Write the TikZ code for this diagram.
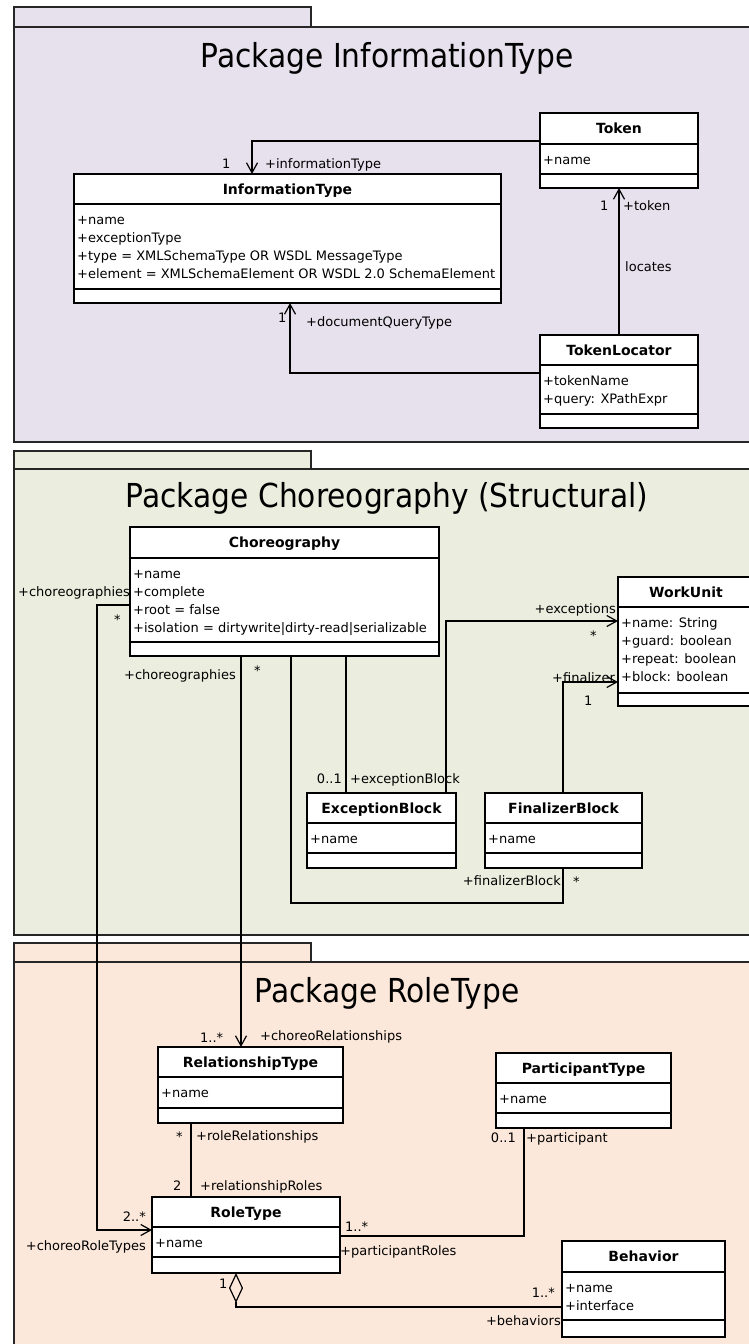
\documentclass[tikz,border=0pt]{standalone}
\usepackage{fontspec}
\setmainfont{DejaVu Sans}
\newfontfamily\titlefont{DejaVu Sans}[FakeStretch=0.9]
\usetikzlibrary{arrows.meta}
\definecolor{pkgA}{HTML}{E6E1ED}
\definecolor{pkgB}{HTML}{EBEEDF}
\definecolor{pkgC}{HTML}{FCE8DA}
\tikzset{
  pkg/.style={draw=black!85, line width=1.4pt},
  pkgtitle/.style={font=\titlefont\fontsize{33}{37}\selectfont, inner sep=0, anchor=base},
  classbox/.style={draw, line width=1.3pt, fill=white, inner sep=0, outer sep=0, rectangle},
  ctitle/.style={font=\fontsize{14}{16}\selectfont\bfseries, inner sep=0, anchor=base},
  cattr/.style={font=\fontsize{13}{16}\selectfont, inner sep=0, anchor=base west},
  lbl/.style={font=\fontsize{13}{16}\selectfont, inner sep=0, anchor=base west},
  lblr/.style={font=\fontsize{13}{16}\selectfont, inner sep=0, anchor=base east},
  assoc/.style={line width=1.2pt},
  nav/.style={assoc, -{Straight Barb[length=10pt,width=11pt]}},
  aggr/.style={assoc, {Diamond[open,length=30pt,width=14pt]}-}
}
% #1 name, #2 x1, #3 y1, #4 x2, #5 y2, #6 name/attr divider, #7 attr/op divider, #8 title, #9 attrs
\newcommand{\umlclass}[9]{%
  \node[classbox, anchor=north west, minimum width={(#4-#2)*1pt}, minimum height={(#5-#3)*1pt}] (#1) at (#2,#3) {};
  \draw[line width=1.3pt] (#2,#6) -- (#4,#6);
  \draw[line width=1.3pt] (#2,#7) -- (#4,#7);
  \node[ctitle] (#1-t) at ({(#2+#4)/2},{(#3+#6)/2+5}) {#8};
  \foreach \attrtext [count=\i] in {#9} {
    \node[cattr] (#1-a\i) at (#2+3,{#6+20+(\i-1)*18}) {\attrtext};
  }
}
\begin{document}
\begin{tikzpicture}[x=1pt,y=-1pt]
\useasboundingbox (0,0) rectangle (749,1344);
\clip (0,0) rectangle (749,1344);
\fill[white] (0,0) rectangle (749,1344);

% packages
\draw[pkg, fill=pkgA] (14,7) rectangle (311,27);
\draw[pkg, fill=pkgA] (14,27) rectangle (760,442);
\draw[pkg, fill=pkgB] (14,451) rectangle (311,469);
\draw[pkg, fill=pkgB] (14,469) rectangle (760,935);
\draw[pkg, fill=pkgC] (14,943) rectangle (311,962);
\draw[pkg, fill=pkgC] (14,962) rectangle (760,1360);
\node[pkgtitle] (titleA) at (387,67) {Package InformationType};
\node[pkgtitle] (titleB) at (387,507) {Package Choreography (Structural)};
\node[pkgtitle] (titleC) at (387,1002) {Package RoleType};

% classes
\umlclass{infotype}{74}{174}{501}{303}{204}{289}{InformationType}{+name,+exceptionType,+type = XMLSchemaType OR WSDL MessageType,+element = XMLSchemaElement OR WSDL 2.0 SchemaElement}
\umlclass{token}{540}{113}{698}{188}{144}{174}{Token}{+name}
\umlclass{tokloc}{540}{335}{698}{428}{365}{414}{TokenLocator}{+tokenName,+query: XPathExpr}
\umlclass{choreo}{130}{527}{439}{656}{558}{642}{Choreography}{+name,+complete,+root = false,+isolation = dirtywrite|dirty-read|serializable}
\umlclass{workunit}{618}{577}{754}{706}{607}{693}{WorkUnit}{+name: String,+guard: boolean,+repeat: boolean,+block: boolean}
\umlclass{excblock}{307}{793}{456}{868}{823}{853}{ExceptionBlock}{+name}
\umlclass{finblock}{485}{793}{642}{868}{823}{853}{FinalizerBlock}{+name}
\umlclass{reltype}{158}{1047}{343}{1123}{1077}{1108}{RelationshipType}{+name}
\umlclass{parttype}{496}{1053}{671}{1128}{1083}{1113}{ParticipantType}{+name}
\umlclass{roletype}{152}{1197}{340}{1273}{1227}{1257}{RoleType}{+name}
\umlclass{behavior}{562}{1241}{725}{1337}{1272}{1320}{Behavior}{+name,+interface}

% connectors: package InformationType
\draw[nav] (token.west |- 0,141) -| (infotype.north -| 252,0);
\draw[nav] (tokloc.north) -- (token.south);
\draw[nav] (tokloc.west |- 0,373) -| (infotype.south -| 290,0);

% connectors: package Choreography
\draw[nav] (choreo.west |- 0,605) -- (97,605) |- (roletype.west |- 0,1230);
\draw[nav] (choreo.south -| 241,0) -- (reltype.north -| 241,0);
\draw[assoc] (choreo.south -| 291,0) |- (563,903) -- (finblock.south -| 563,0);
\draw[assoc] (choreo.south -| 346,0) -- (excblock.north -| 346,0);
\draw[nav] (excblock.north -| 446,0) |- (workunit.west |- 0,621);
\draw[nav] (finblock.north -| 563,0) |- (workunit.west |- 0,682);

% connectors: package RoleType
\draw[assoc] (reltype.south -| 191,0) -- (roletype.north -| 191,0);
\draw[assoc] (parttype.south -| 524,0) |- (roletype.east |- 0,1236);
\draw[aggr] (roletype.south -| 236,0) |- (behavior.west |- 0,1307);

% labels: package InformationType
\node[lbl] (m1) at (222,168) {1};
\node[lbl] (r1) at (265,168) {+informationType};
\node[lbl] (m2) at (600,210) {1};
\node[lbl] (r2) at (623,210) {+token};
\node[lbl] (n1) at (625,271) {locates};
\node[lbl] (m3) at (278,322) {1};
\node[lbl] (r3) at (306,326) {+documentQueryType};

% labels: package Choreography
\node[lbl] (r4) at (18,596) {+choreographies};
\node[lbl] (m4) at (114,624) {*};
\node[lblr] (r5) at (236,679) {+choreographies};
\node[lbl] (m5) at (254,675) {*};
\node[lblr] (r6) at (616,613) {+exceptions};
\node[lbl] (m6) at (590,640) {*};
\node[lbl] (r7) at (552,682) {+finalizer};
\node[lbl] (m7) at (584,705) {1};
\node[lblr] (m8) at (342,783) {0..1};
\node[lbl] (r8) at (350,783) {+exceptionBlock};
\node[lblr] (r9) at (561,885) {+finalizerBlock};
\node[lbl] (m9) at (573,886) {*};

% labels: package RoleType
\node[lbl] (m10) at (200,1042) {1..*};
\node[lbl] (r10) at (260,1040) {+choreoRelationships};
\node[lbl] (m11) at (176,1141) {*};
\node[lbl] (r11) at (196,1140) {+roleRelationships};
\node[lblr] (m12) at (516,1142) {0..1};
\node[lbl] (r12) at (526,1142) {+participant};
\node[lbl] (m13) at (173,1190) {2};
\node[lbl] (r13) at (200,1190) {+relationshipRoles};
\node[lblr] (m14) at (146,1221) {2..*};
\node[lblr] (r14) at (146,1250) {+choreoRoleTypes};
\node[lbl] (m15) at (345,1231) {1..*};
\node[lbl] (r15) at (340,1255) {+participantRoles};
\node[lbl] (m16) at (219,1288) {1};
\node[lblr] (m17) at (555,1297) {1..*};
\node[lblr] (r17) at (561,1325) {+behaviors};
\end{tikzpicture}
\end{document}
